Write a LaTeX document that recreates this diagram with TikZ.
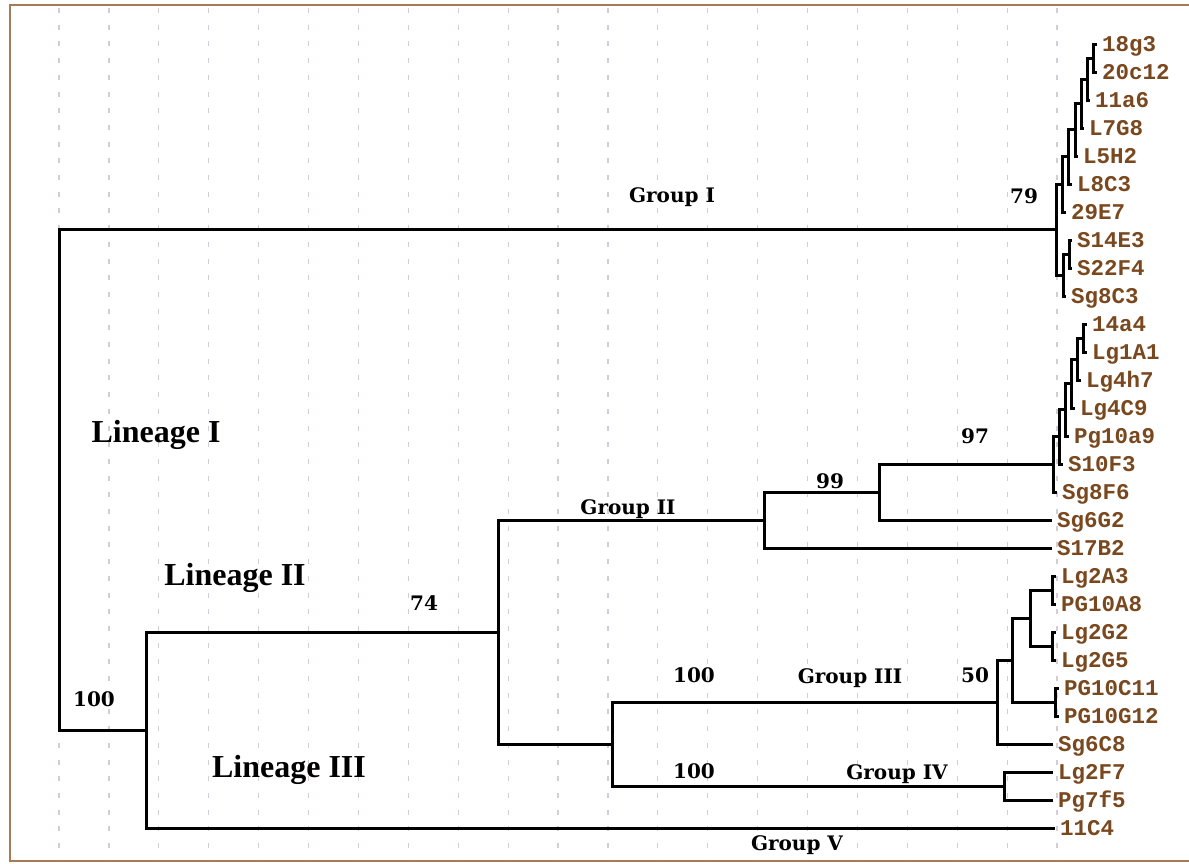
\documentclass[tikz,border=0pt]{standalone}
\usepackage{fontspec}
\newfontfamily\leaffont{Liberation Mono}
\newfontfamily\tagfont{DejaVu Serif}
\newfontfamily\linfont{Liberation Serif}
\definecolor{leafbrown}{RGB}{122,72,30}
\definecolor{framebrown}{RGB}{170,122,85}
\definecolor{gridgray}{RGB}{214,204,214}
\tikzset{
	branch/.style={line width=3pt, line join=miter},
	leaf/.style={anchor=west, inner xsep=5pt, inner ysep=0pt, text height=15pt, text depth=0pt, text=leafbrown, font=\leaffont\bfseries\fontsize{22.5}{22.5}\selectfont},
	support/.style={inner sep=0pt, font=\tagfont\bfseries\fontsize{20}{20}\selectfont},
	lineage/.style={inner sep=0pt, font=\linfont\bfseries\fontsize{32}{32}\selectfont},
	gridline/.style={gridgray, line width=1.2pt, dash pattern=on 5pt off 11.7pt}
}
\begin{document}
\begin{tikzpicture}[x=1pt, y=-1pt]
	\useasboundingbox (0,0) rectangle (1189,863);
	\fill[white] (0,0) rectangle (1189,863);
	% grid and frame
	\foreach \i in {0,...,20} {
		\draw[gridline] ({59+49.9*\i},8) -- ({59+49.9*\i},860);
	}
	\draw[framebrown, line width=2pt] (1189,5) -- (10,5) -- (10,861) -- (1189,861);
	% leaves
	\foreach \n/\tx/\i in {18g3/1097/0, 20c12/1097/1, 11a6/1090/2, L7G8/1084/3, L5H2/1078/4, L8C3/1072/5, 29E7/1066/6, S14E3/1072/7, S22F4/1072/8, Sg8C3/1066/9,
		14a4/1087/10, Lg1A1/1087/11, Lg4h7/1081/12, Lg4C9/1075/13, Pg10a9/1069/14, S10F3/1063/15, Sg8F6/1057/16, Sg6G2/1052/17, S17B2/1052/18,
		Lg2A3/1056/19, PG10A8/1056/20, Lg2G2/1056/21, Lg2G5/1056/22, PG10C11/1059/23, PG10G12/1059/24, Sg6C8/1053/25, Lg2F7/1053/26, Pg7f5/1053/27, 11C4/1055/28} {
		\node[leaf] (\n) at (\tx,{44+28*\i}) {\n};
	}
	% inner nodes
	\coordinate (a1) at (1093,58);
	\coordinate (a2) at (1087,79);
	\coordinate (a3) at (1081,103.5);
	\coordinate (a4) at (1075,129.75);
	\coordinate (a5) at (1068,156.9);
	\coordinate (a6) at (1062,184.4);
	\coordinate (b1) at (1069,254);
	\coordinate (b2) at (1063,275);
	\coordinate (g1) at (1056,229.7);
	\coordinate (c1) at (1083,338);
	\coordinate (c2) at (1077,359);
	\coordinate (c3) at (1071,383.5);
	\coordinate (c4) at (1065,409.75);
	\coordinate (c5) at (1059,436.9);
	\coordinate (c6) at (1053,464.4);
	\coordinate (e) at (879,492.2);
	\coordinate (cc) at (764,520.1);
	\coordinate (h1) at (1052,590);
	\coordinate (h2) at (1052,646);
	\coordinate (h3) at (1030,618);
	\coordinate (h4) at (1055,702);
	\coordinate (h5) at (1012,660);
	\coordinate (g3) at (997,702);
	\coordinate (iv) at (1004,786);
	\coordinate (d) at (612,744);
	\coordinate (bb) at (498,632);
	\coordinate (aa) at (146,730);
	\coordinate (root) at (59,480);
	% branches
	\foreach \p/\c in {a1/18g3.west, a1/20c12.west, a2/a1, a2/11a6.west, a3/a2, a3/L7G8.west, a4/a3, a4/L5H2.west,
		a5/a4, a5/L8C3.west, a6/a5, a6/29E7.west, b1/S14E3.west, b1/S22F4.west, b2/b1, b2/Sg8C3.west, g1/a6, g1/b2,
		c1/14a4.west, c1/Lg1A1.west, c2/c1, c2/Lg4h7.west, c3/c2, c3/Lg4C9.west, c4/c3, c4/Pg10a9.west,
		c5/c4, c5/S10F3.west, c6/c5, c6/Sg8F6.west, e/c6, e/Sg6G2.west, cc/e, cc/S17B2.west,
		h1/Lg2A3.west, h1/PG10A8.west, h2/Lg2G2.west, h2/Lg2G5.west, h3/h1, h3/h2, h4/PG10C11.west, h4/PG10G12.west,
		h5/h3, h5/h4, g3/h5, g3/Sg6C8.west, iv/Lg2F7.west, iv/Pg7f5.west, d/g3, d/iv, bb/cc, bb/d, aa/bb, aa/11C4.west,
		root/g1, root/aa} {
		\draw[branch] (\p) |- (\c);
	}
	% support values and group names
	\node[support] (s79) at (1024,196) {79};
	\node[support] (s97) at (975,436) {97};
	\node[support] (s99) at (830,481) {99};
	\node[support] (s74) at (424,603) {74};
	\node[support] (s100a) at (94,699) {100};
	\node[support] (s100b) at (694,675) {100};
	\node[support] (s50) at (975,675) {50};
	\node[support] (s100c) at (694,771) {100};
	\node[support] (grpI) at (672,197) {Group I};
	\node[support] (grpII) at (628,509) {Group II};
	\node[support] (grpIII) at (850,678) {Group III};
	\node[support] (grpIV) at (897,774) {Group IV};
	\node[support] (grpV) at (797,845) {Group V};
	\node[lineage] (linI) at (156,435) {Lineage I};
	\node[lineage] (linII) at (235,578) {Lineage II};
	\node[lineage] (linIII) at (289,770) {Lineage III};
\end{tikzpicture}
\end{document}
